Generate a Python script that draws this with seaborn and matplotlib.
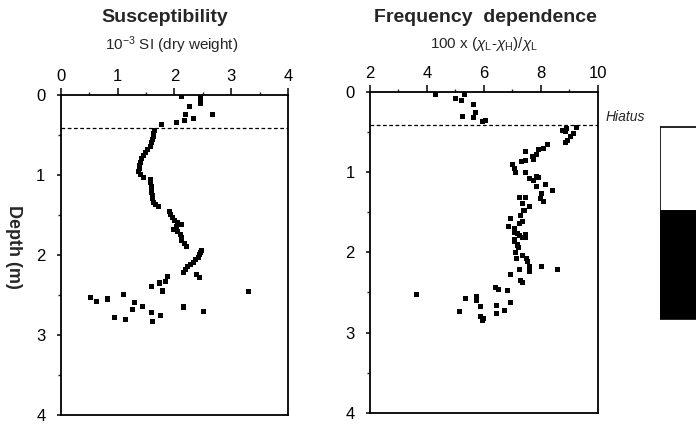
import numpy as np
import pandas as pd
import matplotlib
matplotlib.use("Agg")
import matplotlib.pyplot as plt
import seaborn as sns
from matplotlib.ticker import MultipleLocator

# Magnetic susceptibility (10^-3 SI) against depth (m)
sus_value = [2.12, 2.46, 2.46, 2.46, 2.27, 2.19, 2.67, 2.33, 2.17, 2.03, 1.78,
             1.65, 1.64, 1.63, 1.62, 1.60, 1.58, 1.53, 1.50, 1.46, 1.43, 1.41,
             1.39, 1.38, 1.37, 1.40, 1.45,
             1.58, 1.58, 1.59, 1.59, 1.60, 1.61, 1.62, 1.64, 1.67, 1.72,
             1.91, 1.93, 1.96, 2.00, 2.05, 2.12, 2.04, 1.98, 2.06, 2.10,
             2.12, 2.13, 2.17, 2.21,
             2.47, 2.46, 2.45, 2.42, 2.38, 2.33, 2.28, 2.23, 2.19, 2.16,
             2.39, 2.45, 1.88, 1.85, 1.74, 1.59, 1.80, 3.31, 1.10, 0.52, 0.63,
             0.83, 1.30, 1.44, 1.27, 2.16, 1.59, 1.75, 1.62, 2.51, 0.94, 1.14]
sus_depth = [0.02, 0.03, 0.06, 0.11, 0.14, 0.24, 0.25, 0.30, 0.32, 0.34, 0.37,
             0.44, 0.48, 0.52, 0.56, 0.60, 0.64, 0.68, 0.72, 0.76, 0.80, 0.84,
             0.88, 0.92, 0.96, 1.00, 1.03,
             1.06, 1.10, 1.14, 1.18, 1.22, 1.26, 1.30, 1.34, 1.37, 1.40,
             1.46, 1.49, 1.53, 1.57, 1.60, 1.62, 1.64, 1.68, 1.71, 1.74,
             1.78, 1.82, 1.86, 1.90,
             1.94, 1.97, 2.00, 2.03, 2.06, 2.09, 2.12, 2.15, 2.18, 2.22,
             2.24, 2.28, 2.27, 2.33, 2.35, 2.39, 2.45, 2.46, 2.49, 2.53, 2.58,
             2.55, 2.59, 2.64, 2.68, 2.65, 2.72, 2.76, 2.83, 2.71, 2.78, 2.81]

# Frequency-dependent susceptibility (%) against depth (m)
fd_value = [4.30, 5.00, 5.21, 5.32, 5.62, 5.71, 5.24, 5.65, 6.06, 5.95,
            8.90, 9.25, 8.76, 8.88, 9.14, 9.06, 8.94, 8.86,
            8.23, 8.11, 7.92, 7.45, 7.85, 7.70, 7.76, 7.47, 7.33, 7.02, 7.06,
            7.12, 7.45, 7.59, 7.73, 7.85, 7.92, 8.17, 7.85, 8.41, 8.03, 8.00,
            8.11, 7.45, 7.26, 7.35, 7.61, 7.41, 7.29, 6.94, 7.35, 7.24, 6.88,
            7.06, 7.18, 7.47, 7.35, 7.06, 7.18,
            7.06, 7.24, 7.45, 7.06, 7.18, 7.22, 7.12, 7.35, 7.49, 7.14, 7.53,
            7.61, 8.03, 8.58, 7.59, 7.24, 6.94, 7.29, 7.35,
            6.41, 6.53, 6.82, 3.63, 5.36, 5.73, 5.73, 6.94, 6.44, 5.88, 6.74,
            5.15, 6.44, 5.88, 5.97, 5.95]
fd_depth = [0.03, 0.08, 0.10, 0.03, 0.15, 0.25, 0.30, 0.32, 0.36, 0.37,
            0.45, 0.44, 0.475, 0.49, 0.52, 0.56, 0.60, 0.63,
            0.65, 0.70, 0.72, 0.74, 0.775, 0.81, 0.84, 0.85, 0.87, 0.91, 0.95,
            1.01, 1.01, 1.08, 1.10, 1.06, 1.07, 1.15, 1.175, 1.225, 1.26, 1.33,
            1.37, 1.31, 1.32, 1.39, 1.43, 1.475, 1.54, 1.58, 1.62, 1.64, 1.68,
            1.70, 1.77, 1.775, 1.81, 1.84, 1.90,
            1.75, 1.79, 1.81, 1.86, 1.91, 1.94, 2.00, 2.04, 2.08, 2.08, 2.12,
            2.175, 2.18, 2.22, 2.24, 2.22, 2.28, 2.35, 2.38,
            2.44, 2.46, 2.47, 2.525, 2.58, 2.55, 2.60, 2.62, 2.66, 2.68, 2.72,
            2.74, 2.76, 2.80, 2.83, 2.85]

hiatus_depth = 0.41
# Lithology column: (top, bottom, fill)
unit_tops = [0.44, 1.48]
unit_bottoms = [1.48, 2.83]
unit_colors = ["white", "black"]

sns.set_style("ticks")
plt.rcParams["font.family"] = ["Liberation Sans", "DejaVu Sans"]
plt.rcParams["mathtext.fontset"] = "custom"
plt.rcParams["mathtext.rm"] = "Liberation Sans"
plt.rcParams["mathtext.it"] = "Liberation Sans:italic"
plt.rcParams["axes.linewidth"] = 1.3

sus_df = pd.DataFrame({"value": sus_value, "depth": sus_depth})
fd_df = pd.DataFrame({"value": fd_value, "depth": fd_depth})

fig = plt.figure(figsize=(6.96, 4.24), dpi=100)
ax1 = fig.add_axes([0.0872, 0.0212, 0.3266, 0.7548])
ax2 = fig.add_axes([0.5316, 0.0267, 0.3272, 0.7563])


def style_depth_axis(ax, xmin, xmax, xmajor, xminor):
    ax.set_xlim(xmin, xmax)
    ax.set_ylim(4, 0)
    ax.xaxis.set_major_locator(MultipleLocator(xmajor))
    ax.xaxis.set_minor_locator(MultipleLocator(xminor))
    ax.yaxis.set_major_locator(MultipleLocator(1))
    ax.yaxis.set_minor_locator(MultipleLocator(0.5))
    ax.xaxis.tick_top()
    ax.tick_params(axis="x", which="major", direction="out", length=5,
                   width=1.1, pad=3, labelsize=12, colors="black")
    ax.tick_params(axis="x", which="minor", direction="out", length=2.5,
                   width=1.0)
    ax.tick_params(axis="y", which="major", direction="out", length=3,
                   width=1.1, pad=8, labelsize=12, colors="black")
    ax.tick_params(axis="y", which="minor", direction="out", length=2,
                   width=1.0)
    ax.set_xlabel("")
    ax.set_ylabel("")
    for s in ax.spines.values():
        s.set_visible(True)
        s.set_color("black")
    ax.axhline(hiatus_depth, color="black", lw=0.9, ls=(0, (3, 2)))


sns.scatterplot(data=sus_df, x="value", y="depth", ax=ax1, marker="s",
                s=13, color="black", edgecolor="none", linewidth=0)
style_depth_axis(ax1, 0, 4, 1, 0.5)

sns.scatterplot(data=fd_df, x="value", y="depth", ax=ax2, marker="s",
                s=13, color="black", edgecolor="none", linewidth=0)
style_depth_axis(ax2, 2, 10, 2, 1)

ax2.text(10.27, 0.31, "Hiatus", style="italic", fontsize=10,
         ha="left", va="center", clip_on=False)

fig.text(0.019, 0.4175, "Depth (m)", rotation=-90, fontsize=13,
         fontweight="bold", ha="center", va="center")

fig.text(0.237, 0.958, "Susceptibility", fontsize=14, fontweight="bold",
         ha="center", va="center")
fig.text(0.246, 0.894, r"10$^{-3}$ SI (dry weight)", fontsize=11,
         ha="center", va="center")
fig.text(0.698, 0.958, "Frequency  dependence", fontsize=14,
         fontweight="bold", ha="center", va="center")
fig.text(0.695, 0.896,
         r"100 x ($\mathit{\chi}_{\rm L}$-$\mathit{\chi}_{\rm H}$)/$\mathit{\chi}_{\rm L}$",
         fontsize=11, ha="center", va="center")

# Lithology column beside the frequency-dependence panel
ax3 = fig.add_axes([0.948, 0.0267, 0.1, 0.7563])
ax3.set_ylim(4, 0)
ax3.set_xlim(0, 1)
ax3.axis("off")
for top, bot, col in zip(unit_tops, unit_bottoms, unit_colors):
    ax3.fill_between([0, 1], top, bot, facecolor=col, edgecolor="black",
                     linewidth=1.2)

fig.savefig("out.png", dpi=100)
